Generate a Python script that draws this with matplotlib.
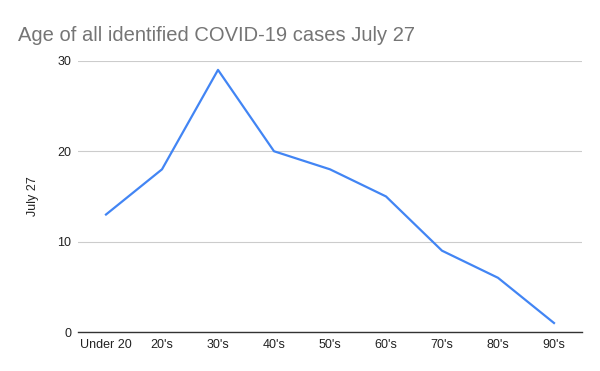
import matplotlib.pyplot as plt

plt.rcParams['font.family'] = ['Liberation Sans', 'DejaVu Sans']

# datos
edades = ["Under 20", "20's", "30's", "40's", "50's", "60's", "70's", "80's", "90's"]
casos = [13, 18, 29, 20, 18, 15, 9, 6, 1]
ticks_y = [0, 10, 20, 30]

fig = plt.figure(figsize=(6, 3.71), dpi=100)
ax = fig.add_axes([0.13, 0.105, 0.84, 0.731])

x = list(range(len(edades)))
ax.plot(x, casos, color='#4285F4', linewidth=1.6, zorder=3)

ax.set_xlim(-0.5, len(edades) - 0.5)
ax.set_ylim(0, 30)
ax.set_yticks(ticks_y)
ax.set_xticks(x)
ax.set_xticklabels(edades)
ax.tick_params(axis='both', length=0, labelsize=9, labelcolor='#222222')
ax.tick_params(axis='y', pad=5)
ax.tick_params(axis='x', pad=5)

ax.grid(axis='y', color='#cccccc', linewidth=0.8)
ax.set_axisbelow(True)
for s in ['top', 'right', 'left']:
    ax.spines[s].set_visible(False)
ax.spines['bottom'].set_color('#333333')
ax.spines['bottom'].set_linewidth(1)
ax.spines['bottom'].set_zorder(4)

ax.set_ylabel('July 27', fontsize=9, color='#222222', labelpad=13)

fig.text(0.03, 0.89, 'Age of all identified COVID-19 cases July 27',
         fontsize=14.5, color='#757575', ha='left', va='baseline')

fig.savefig('out.png', dpi=100)
